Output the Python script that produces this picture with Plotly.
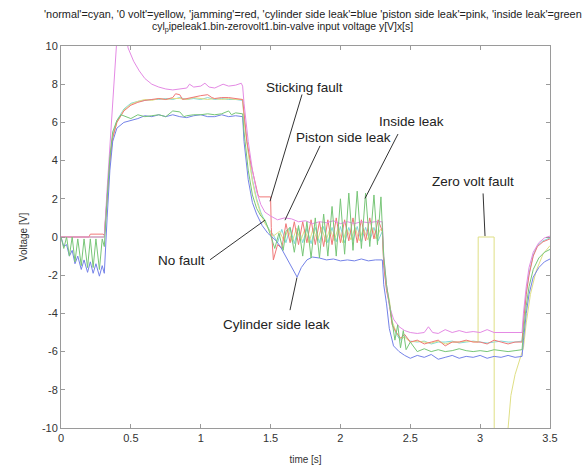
import plotly.graph_objects as go

# ---------------- data ----------------
red_t = [0, 0.20, 0.21, 0.30, 0.31, 0.33, 0.35, 0.37, 0.40, 0.45, 0.50, 0.55, 0.60, 0.65, 0.70, 0.75,
         0.80, 0.82, 0.85, 0.87, 0.90, 0.95, 1.00, 1.05, 1.08, 1.10, 1.15, 1.20, 1.25, 1.30,
         1.31, 1.33, 1.36, 1.39, 1.41, 1.42, 1.50, 1.505, 1.52, 1.55,
         1.58, 1.61, 1.64, 1.67, 1.70, 1.73, 1.76, 1.79, 1.82, 1.85, 1.88, 1.91, 1.94, 1.97,
         2.00, 2.03, 2.06, 2.09, 2.12, 2.15, 2.18, 2.21, 2.24, 2.27, 2.30,
         2.31, 2.33, 2.35, 2.37, 2.40, 2.43, 2.46, 2.50, 2.55, 2.60, 2.65, 2.70, 2.75, 2.80,
         2.85, 2.90, 2.95, 3.00, 3.05, 3.10, 3.15, 3.20, 3.25, 3.30,
         3.31, 3.33, 3.35, 3.38, 3.41, 3.45, 3.50]
red_v = [0, 0, 0.15, 0.15, 0.1, 2.0, 4.0, 5.2, 6.0, 6.6, 6.9, 7.05, 7.15, 7.2, 7.25, 7.2,
         7.3, 7.5, 7.45, 7.2, 7.25, 7.3, 7.4, 7.45, 7.3, 7.25, 7.3, 7.3, 7.25, 7.2,
         6.5, 5.0, 3.8, 2.8, 2.2, 2.1, 2.1, 0.5, -1.2, -0.4,
         -0.6, 0.7, -0.3, 0.8, -0.4, 0.8, -0.3, 0.9, -0.4, 0.8, -0.5, 0.9, -0.4, 1.0,
         -0.3, 0.9, -0.2, 1.0, -0.3, 0.9, -0.2, 1.0, -0.1, 0.9, 0.3,
         -1.5, -2.8, -3.5, -4.6, -5.0, -5.3, -5.1, -5.5, -5.4, -5.6, -5.5, -5.4, -5.7, -5.5,
         -5.5, -5.4, -5.5, -5.5, -5.6, -5.4, -5.5, -5.6, -5.5, -5.5,
         -4.5, -3.0, -2.0, -1.0, -0.5, -0.25, -0.1]

cyan_t = [0, 0.31, 0.33, 0.35, 0.37, 0.40, 0.45, 0.50, 0.55, 0.60, 0.65, 0.70, 0.75, 0.80, 0.85,
          0.90, 0.95, 1.00, 1.05, 1.10, 1.15, 1.20, 1.25, 1.30,
          1.31, 1.34, 1.37, 1.40, 1.43, 1.46, 1.49, 1.52, 1.55,
          1.58, 1.61, 1.64, 1.67, 1.70, 1.73, 1.76, 1.79, 1.82, 1.85, 1.88, 1.91, 1.94, 1.97,
          2.00, 2.03, 2.06, 2.09, 2.12, 2.15, 2.18, 2.21, 2.24, 2.27, 2.30,
          2.31, 2.33, 2.35, 2.37, 2.40, 2.43, 2.46, 2.50, 2.55, 2.60, 2.65, 2.70, 2.75, 2.80,
          2.85, 2.90, 2.95, 3.00, 3.05, 3.10, 3.15, 3.20, 3.25, 3.30,
          3.31, 3.33, 3.35, 3.38, 3.41, 3.45, 3.50]
cyan_v = [0, 0, 2.1, 4.1, 5.3, 6.1, 6.7, 7.0, 7.1, 7.15, 7.2, 7.2, 7.25, 7.2, 7.3,
          7.2, 7.25, 7.2, 7.3, 7.2, 7.25, 7.2, 7.2, 7.15,
          6.3, 4.5, 3.0, 2.0, 1.3, 0.8, 0.4, 0.1, -0.3,
          0.4, -0.3, 0.5, -0.35, 0.5, -0.3, 0.45, -0.35, 0.5, -0.3, 0.55, -0.3, 0.5, -0.25,
          0.55, -0.3, 0.5, -0.2, 0.55, -0.25, 0.5, -0.2, 0.5, -0.2, 0.3,
          -1.4, -2.7, -3.4, -4.5, -5.1, -5.4, -5.2, -5.45, -5.5, -5.45, -5.6, -5.5, -5.5, -5.45,
          -5.55, -5.5, -5.45, -5.5, -5.55, -5.5, -5.45, -5.5, -5.5, -5.45,
          -4.4, -2.9, -1.9, -0.95, -0.45, -0.2, -0.05]

yellow_t = [0, 0.31, 0.33, 0.35, 0.37, 0.40, 0.45, 0.50, 0.55, 0.60, 0.65, 0.70, 0.75, 0.80, 0.85,
            0.90, 0.95, 1.00, 1.05, 1.10, 1.15, 1.20, 1.25, 1.30,
            1.31, 1.34, 1.37, 1.40, 1.43, 1.46, 1.49, 1.52, 1.565,
            1.595, 1.625, 1.655, 1.685, 1.715, 1.745, 1.775, 1.805, 1.835, 1.865, 1.895, 1.925,
            1.955, 1.985, 2.015, 2.045, 2.075, 2.105, 2.135, 2.165, 2.195, 2.225, 2.255, 2.285, 2.30,
            2.31, 2.33, 2.35, 2.37, 2.40, 2.43, 2.46, 2.50, 2.55, 2.60, 2.65, 2.70, 2.75, 2.80,
            2.85, 2.90, 2.95, 2.985, 2.986, 3.10, 3.101,
            3.18, 3.20, 3.22, 3.25, 3.28, 3.31, 3.33, 3.36, 3.40, 3.45, 3.50]
yellow_v = [0, 0, 2.0, 4.0, 5.2, 6.0, 6.65, 6.95, 7.1, 7.2, 7.15, 7.25, 7.2, 7.25, 7.25,
            7.2, 7.3, 7.25, 7.2, 7.25, 7.2, 7.25, 7.2, 7.2,
            6.2, 4.4, 2.9, 1.9, 1.2, 0.7, 0.35, 0.05, 0.3,
            -0.2, 0.4, -0.25, 0.45, -0.2, 0.4, -0.3, 0.45, -0.2, 0.5, -0.25, 0.45,
            -0.2, 0.5, -0.3, 0.45, -0.15, 0.5, -0.2, 0.45, -0.15, 0.5, -0.1, 0.4, 0.3,
            -1.3, -2.6, -3.3, -4.4, -5.0, -5.3, -5.25, -5.5, -5.45, -5.5, -5.55, -5.45, -5.6, -5.5,
            -5.5, -5.45, -5.5, -5.5, 0.0, 0.0, -14.0,
            -12.0, -10.0, -8.3, -7.2, -6.5, -5.8, -4.5, -3.0, -1.8, -0.9, -0.45]

pink_t = [0, 0.31, 0.33, 0.36, 0.39, 0.41, 0.43, 0.46, 0.48, 0.52, 0.56, 0.60, 0.65, 0.70, 0.75,
          0.80, 0.85, 0.90, 0.92, 0.95, 1.00, 1.03, 1.06, 1.10, 1.13, 1.16, 1.20, 1.25, 1.29, 1.30,
          1.31, 1.34, 1.37, 1.40, 1.43, 1.46, 1.50, 1.55, 1.60, 1.65, 1.70, 1.75, 1.80, 1.85,
          1.90, 1.95, 2.00, 2.05, 2.10, 2.15, 2.20, 2.25, 2.30,
          2.31, 2.33, 2.35, 2.38, 2.42, 2.46, 2.50, 2.55, 2.60, 2.63, 2.66, 2.70, 2.75, 2.80,
          2.85, 2.90, 2.95, 3.00, 3.05, 3.10, 3.15, 3.20, 3.30,
          3.31, 3.33, 3.35, 3.38, 3.42, 3.46, 3.50]
pink_v = [0, 0, 2.5, 6.0, 9.5, 11.5, 12.5, 11.0, 9.9, 9.2, 8.7, 8.3, 8.0, 7.85, 7.75,
          7.7, 7.75, 7.8, 8.0, 7.85, 7.9, 8.05, 7.85, 7.8, 7.9, 8.0, 7.9, 7.95, 8.05, 7.9,
          7.0, 5.0, 3.5, 2.4, 1.7, 1.3, 1.1, 0.9, 1.0, 0.95, 0.8, 0.85, 0.7, 0.8,
          0.75, 0.85, 0.7, 0.8, 0.7, 0.8, 0.75, 0.8, 0.8,
          -1.0, -2.5, -3.6, -4.3, -4.7, -4.9, -5.0, -5.05, -5.0, -4.7, -5.0, -5.05, -4.85, -5.0,
          -4.9, -5.0, -4.95, -5.0, -4.85, -5.0, -5.0, -5.0, -5.0,
          -4.0, -2.6, -1.6, -0.8, -0.3, -0.05, 0.05]

green_t = [0, 0.02, 0.04, 0.06, 0.08, 0.10, 0.12, 0.145, 0.165, 0.19, 0.21, 0.23, 0.25, 0.275,
           0.295, 0.31, 0.33, 0.35, 0.37, 0.40, 0.43, 0.45, 0.50, 0.55, 0.60, 0.65, 0.70, 0.75,
           0.80, 0.85, 0.88, 0.90, 0.95, 1.00, 1.05, 1.10, 1.15, 1.20, 1.22, 1.25, 1.30,
           1.31, 1.34, 1.37, 1.40, 1.43, 1.46, 1.50, 1.53, 1.56, 1.59, 1.61,
           1.64, 1.67, 1.70, 1.73, 1.76, 1.79, 1.82, 1.85, 1.88, 1.91, 1.94, 1.97, 2.00, 2.03,
           2.06, 2.09, 2.12, 2.15, 2.18, 2.21, 2.24, 2.265, 2.29, 2.30,
           2.31, 2.33, 2.35, 2.37, 2.39, 2.41, 2.43, 2.45, 2.47, 2.50, 2.55, 2.60, 2.65, 2.70,
           2.75, 2.80, 2.85, 2.90, 2.95, 3.00, 3.05, 3.10, 3.15, 3.20, 3.25, 3.30,
           3.31, 3.33, 3.35, 3.38, 3.42, 3.46, 3.50]
green_v = [0, -0.6, 0, -1.0, 0, -1.3, -0.1, -1.5, -0.1, -1.6, -0.1, -1.6, -0.1, -1.7,
           -0.1, -0.5, 2.0, 4.2, 5.5, 6.1, 6.4, 6.35, 6.2, 6.4, 6.3, 6.35, 6.4, 6.3,
           6.6, 6.55, 6.3, 6.35, 6.4, 6.4, 6.45, 6.4, 6.45, 6.6, 6.4, 6.5, 6.45,
           5.5, 3.5, 2.2, 1.5, 1.1, 0.9, 0.1, -0.6, 0.2, -0.7, 0.3,
           0.5, -0.8, 0.6, -1.0, 0.8, -1.1, 1.0, -1.1, 1.2, -1.0, 1.6, -1.0, 2.0, -0.9,
           2.3, -0.7, 2.4, -0.6, 2.3, -0.5, 2.2, -0.4, 2.1, 0.5,
           -1.0, -2.5, -3.5, -4.5, -5.4, -4.6, -5.8, -4.9, -5.9, -5.5, -6.0, -5.85, -6.0, -5.9,
           -6.0, -5.95, -5.85, -5.95, -6.0, -5.95, -6.0, -5.9, -5.95, -6.0, -5.95, -5.9,
           -5.0, -3.6, -2.6, -1.7, -1.1, -0.8, -0.65]

blue_t = [0, 0.02, 0.04, 0.06, 0.08, 0.10, 0.12, 0.145, 0.165, 0.19, 0.21, 0.23, 0.25, 0.275,
          0.295, 0.31, 0.33, 0.35, 0.37, 0.40, 0.45, 0.50, 0.55, 0.60, 0.65, 0.70, 0.75, 0.80,
          0.85, 0.90, 0.95, 1.00, 1.05, 1.10, 1.15, 1.20, 1.25, 1.30,
          1.31, 1.34, 1.37, 1.40, 1.44, 1.48, 1.51, 1.54, 1.57, 1.60, 1.63, 1.66, 1.69, 1.72,
          1.76, 1.80, 1.85, 1.90, 1.95, 2.00, 2.05, 2.10, 2.15, 2.20, 2.25, 2.30,
          2.31, 2.33, 2.35, 2.38, 2.42, 2.46, 2.50, 2.55, 2.60, 2.65, 2.70, 2.75, 2.80, 2.85,
          2.90, 2.95, 3.00, 3.05, 3.10, 3.15, 3.20, 3.25, 3.30,
          3.31, 3.33, 3.35, 3.38, 3.42, 3.46, 3.50]
blue_v = [0, -0.5, -0.4, -1.0, -0.7, -1.4, -1.0, -1.7, -1.2, -1.85, -1.3, -1.9, -1.4, -2.05,
          -1.5, -1.9, 1.0, 3.5, 5.0, 5.7, 6.0, 6.1, 6.2, 6.35, 6.3, 6.4, 6.3, 6.4,
          6.3, 6.25, 6.35, 6.4, 6.3, 6.3, 6.4, 6.3, 6.35, 6.3,
          5.0, 3.0, 1.8, 1.2, 0.6, 0.2, 0.0, -0.2, -0.5, -0.9, -1.3, -1.7, -2.1, -1.6,
          -1.2, -1.05, -1.1, -1.2, -1.15, -1.25, -1.2, -1.25, -1.15, -1.25, -1.2, -1.2,
          -2.5, -3.5, -4.8, -5.7, -6.0, -6.2, -6.35, -6.2, -6.3, -6.15, -6.4, -6.3, -6.2, -6.35,
          -6.25, -6.3, -6.2, -6.35, -6.25, -6.3, -6.2, -6.3, -6.25,
          -5.4, -4.0, -3.0, -2.1, -1.6, -1.3, -1.15]

x_ticks = [0, 0.5, 1, 1.5, 2, 2.5, 3, 3.5]
y_ticks = [-10, -8, -6, -4, -2, 0, 2, 4, 6, 8, 10]

title_lines = ["'normal'=cyan, '0 volt'=yellow, 'jamming'=red, 'cylinder side leak'=blue "
               "'piston side leak'=pink, 'inside leak'=green",
               "cyl<sub>p</sub>ipeleak1.bin-zerovolt1.bin-valve input voltage y[V]x[s]"]

labels = ["Sticking fault", "Piston side leak", "Inside leak", "Zero volt fault",
          "No fault", "Cylinder side leak"]
label_x = [1.74, 2.02, 2.51, 2.95, 0.86, 1.54]
label_y = [7.82, 5.23, 6.06, 2.9, -1.24, -4.56]
pointer_from = [(1.725, 7.46), (1.854, 4.77), (2.412, 5.39), (3.021, 2.28), (1.067, -1.19), (1.639, -3.83)]
pointer_to = [(1.496, 1.87), (1.603, 0.88), (2.176, 2.02), (3.035, 0.05), (1.46, 0.88), (1.689, -2.12)]

series = [
    ("cyan", cyan_t, cyan_v, "#7fd8d8"),
    ("yellow", yellow_t, yellow_v, "#dfdf85"),
    ("red", red_t, red_v, "#f07878"),
    ("blue", blue_t, blue_v, "#7482e8"),
    ("pink", pink_t, pink_v, "#e48ae4"),
    ("green", green_t, green_v, "#78c678"),
]

FONT = "Liberation Sans, Arial"
W, H = 585, 475
ML, MR, MT, MB = 61, 35, 46, 43
PW, PH = W - ML - MR, H - MT - MB

fig = go.Figure()
for name, t, v, c in series:
    fig.add_trace(go.Scatter(x=t, y=v, mode="lines", name=name,
                             line=dict(color=c, width=1), showlegend=False))

for (x0, y0), (x1, y1) in zip(pointer_from, pointer_to):
    fig.add_shape(type="line", x0=x0, y0=y0, x1=x1, y1=y1, xref="x", yref="y",
                  line=dict(color="#333333", width=1))

for txt, x, y in zip(labels, label_x, label_y):
    fig.add_annotation(x=x, y=y, text=txt, showarrow=False, xref="x", yref="y",
                       font=dict(family=FONT, size=13.5, color="#222222"))

# title lines, placed by page pixel position converted to paper coords
for txt, px, py, fs in zip(title_lines, [313, 282], [14, 27], [10.9, 10.4]):
    fig.add_annotation(x=(px - ML) / PW, y=(H - MB - py) / PH, xref="paper", yref="paper",
                       showarrow=False, text=txt, xanchor="center", yanchor="middle",
                       font=dict(family=FONT, size=fs, color="#222222"))

axis_common = dict(showgrid=False, zeroline=False, showline=True, linecolor="#9a9a9a",
                   linewidth=1, mirror="ticks", ticks="inside", ticklen=4, tickcolor="#9a9a9a",
                   tickfont=dict(family=FONT, size=11, color="#333333"))

fig.update_layout(
    width=W, height=H,
    margin=dict(l=ML, r=MR, t=MT, b=MB),
    paper_bgcolor="white", plot_bgcolor="white",
    xaxis=dict(range=[0, 3.5], tickvals=x_ticks, ticktext=[f"{v:g}" for v in x_ticks],
               title=dict(text="time [s]", standoff=12,
                          font=dict(family=FONT, size=10, color="#333333")),
               **axis_common),
    yaxis=dict(range=[-10, 10], tickvals=y_ticks, ticktext=[f"{v:g}" for v in y_ticks],
               title=dict(text="Voltage [V]", standoff=12,
                          font=dict(family=FONT, size=10, color="#333333")),
               **axis_common),
)

fig.write_html("out.html")
